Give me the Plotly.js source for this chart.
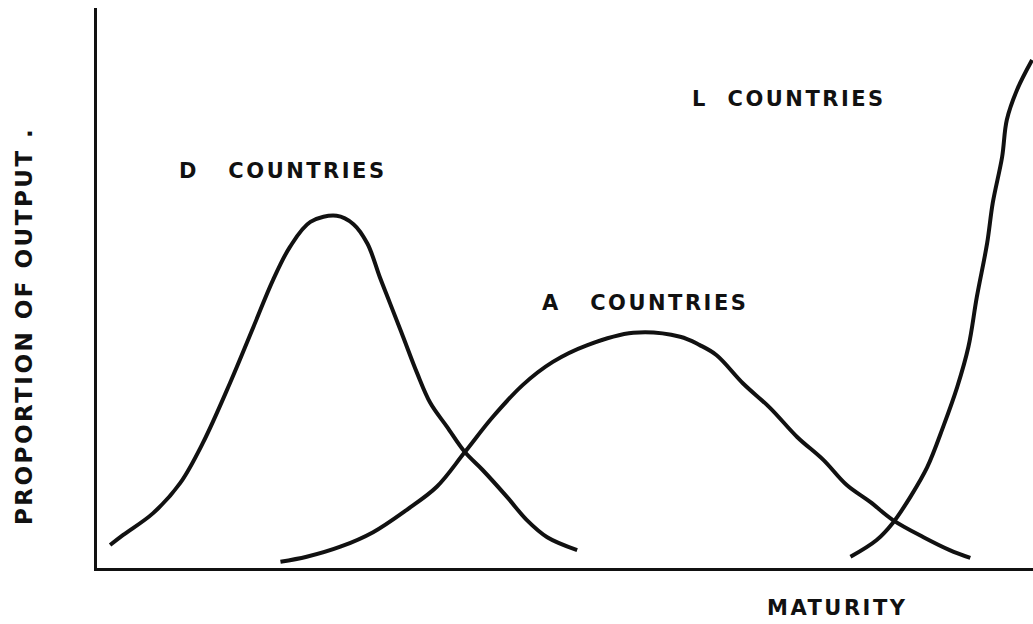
<!DOCTYPE html>
<html>
<head>
<meta charset="utf-8">
<script src="https://cdn.plot.ly/plotly-3.0.1.min.js"></script>
<style>
  html, body { margin: 0; padding: 0; background: #fff; }
  #chart { width: 1033px; height: 624px; }
  /* the hand lettering is widely spaced */
  .annotation-text { letter-spacing: 2.5px; }
</style>
</head>
<body>
<div id="chart"></div>
<script>
// maturity (0-100) vs proportion of output (0-100)
const dMaturity = [1.4, 2.8, 6.0, 8.9, 11.3, 14.2, 16.7, 18.8, 20.6, 22.8, 25.6, 27.4, 28.9, 30.2, 31.3, 32.7, 34.2, 35.6, 37.4, 39.3, 41.2, 43.8, 45.9, 48.1, 51.3];
const dShare    = [4.1, 5.9, 9.8, 15.2, 22.3, 33.0, 43.0, 51.4, 57.3, 61.8, 62.9, 61.4, 57.9, 52.0, 47.3, 41.3, 34.8, 29.5, 25.2, 20.7, 17.5, 12.7, 8.6, 5.5, 3.2];

const aMaturity = [19.6, 22.4, 26.0, 29.5, 33.1, 36.3, 39.3, 42.3, 45.5, 48.7, 52.4, 57.3, 62.3, 64.4, 66.2, 69.0, 71.9, 74.8, 77.6, 80.1, 82.6, 85.0, 88.3, 91.1, 93.3];
const aShare    = [1.1, 2.0, 3.8, 6.4, 10.4, 14.5, 20.7, 27.0, 32.7, 36.8, 39.8, 42.0, 41.3, 39.8, 38.0, 33.0, 28.6, 23.4, 19.3, 14.8, 11.8, 8.6, 5.5, 3.2, 1.8];

const lMaturity = [80.5, 83.3, 85.0, 86.9, 88.7, 90.4, 91.9, 93.1, 94.0, 95.1, 95.7, 96.7, 97.2, 98.3, 99.9];
const lShare    = [2.0, 5.0, 8.0, 12.7, 18.0, 25.2, 32.3, 39.5, 48.4, 58.0, 65.2, 73.4, 80.0, 85.4, 90.7];

const curveLabels = ['D&nbsp;&nbsp;&nbsp;COUNTRIES', 'A&nbsp;&nbsp;&nbsp;COUNTRIES', 'L&nbsp;&nbsp;COUNTRIES'];
const labelX = [8.5, 47.3, 63.4];
const labelY = [70.9, 47.3, 83.8];

const xLabel = 'MATURITY';
const yLabel = 'PROPORTION OF OUTPUT .';

const ink = '#111';

function curve(x, y) {
    return {
        x, y,
        type: 'scatter',
        mode: 'lines',
        line: { color: ink, width: 4, shape: 'spline', smoothing: 1 },
        hoverinfo: 'skip',
        showlegend: false,
    };
}

const traces = [curve(dMaturity, dShare), curve(aMaturity, aShare), curve(lMaturity, lShare)];

const font = { family: 'DejaVu Sans, sans-serif', size: 21, color: ink, weight: 'bold' };

const annotations = curveLabels.map((t, i) => ({
    x: labelX[i], y: labelY[i], xref: 'x', yref: 'y',
    text: t, showarrow: false, xanchor: 'left', yanchor: 'middle', font,
}));

// axis names sit outside the plot area, so they are placed in paper units
annotations.push({
    x: 0.714, y: -0.071, xref: 'paper', yref: 'paper',
    text: xLabel, showarrow: false, xanchor: 'left', yanchor: 'middle', font,
});

annotations.push({
    x: -0.078, y: 0.432, xref: 'paper', yref: 'paper',
    text: yLabel, showarrow: false, textangle: -90,
    xanchor: 'center', yanchor: 'middle',
    font: { ...font, size: 23 },
});

const bareAxis = {
    range: [0, 100],
    showline: true, linecolor: ink, linewidth: 3,
    showgrid: false, zeroline: false, showticklabels: false, ticks: '',
    fixedrange: true,
};

const layout = {
    width: 1033, height: 624,
    paper_bgcolor: '#fff',
    plot_bgcolor: '#fff',
    margin: { l: 97, r: 0, t: 8, b: 56 },
    xaxis: { ...bareAxis },
    yaxis: { ...bareAxis },
    annotations,
    showlegend: false,
};

Plotly.newPlot('chart', traces, layout, { displayModeBar: false, staticPlot: true });
</script>
</body>
</html>
